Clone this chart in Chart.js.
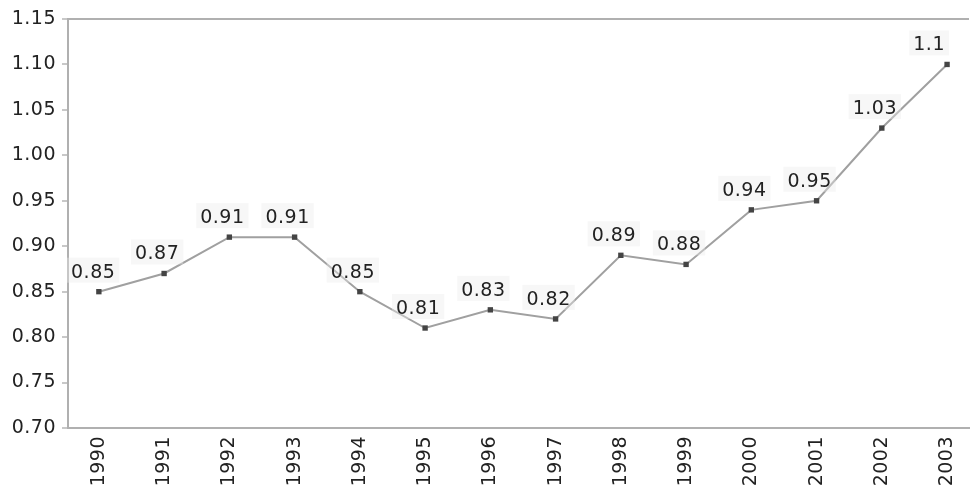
<!DOCTYPE html>
<html>
<head>
<meta charset="utf-8">
<script src="https://cdn.jsdelivr.net/npm/chart.js@4/dist/chart.umd.min.js"></script>
<style>
  html, body { margin: 0; padding: 0; background: #fff; }
  #wrap { width: 973px; height: 491px; }
</style>
</head>
<body>
<div id="wrap"><canvas id="chart"></canvas></div>
<script>
const years = [1990, 1991, 1992, 1993, 1994, 1995, 1996, 1997, 1998, 1999, 2000, 2001, 2002, 2003];
const values = [0.85, 0.87, 0.91, 0.91, 0.85, 0.81, 0.83, 0.82, 0.89, 0.88, 0.94, 0.95, 1.03, 1.1];
const yTicks = [0.70, 0.75, 0.80, 0.85, 0.90, 0.95, 1.00, 1.05, 1.10, 1.15];

const FONT = 'DejaVu Sans';
const TEXT = '#222';
const AXIS = '#b0b0b0';

// value labels above each point, kept inside the plot area
const valueLabels = {
    id: 'valueLabels',
    afterDatasetsDraw(chart) {
        const ctx = chart.ctx;
        const area = chart.chartArea;
        const meta = chart.getDatasetMeta(0);
        ctx.save();
        ctx.letterSpacing = '0.5px';
        ctx.font = `19px "${FONT}"`;
        ctx.textBaseline = 'alphabetic';
        meta.data.forEach((pt, i) => {
            const txt = String(values[i]);
            const w = ctx.measureText(txt).width;
            let x = pt.x - w / 2 - 7;
            if (x < area.left + 3) x = area.left + 3;
            if (x + w > area.right - 24) x = area.right - 24 - w;
            const y = pt.y - 14;
            ctx.fillStyle = 'rgba(235,235,235,0.4)';
            ctx.fillRect(x - 4, y - 20, w + 8, 25);
            ctx.fillStyle = TEXT;
            ctx.textAlign = 'left';
            ctx.fillText(txt, x, y);
        });
        ctx.restore();
    }
};

const spacing = {
    id: 'spacing',
    beforeDraw(chart) { chart.ctx.letterSpacing = '0.5px'; }
};

new Chart(document.getElementById('chart'), {
    type: 'line',
    data: {
        datasets: [{
            data: years.map((yr, i) => ({ x: yr, y: values[i] })),
            borderColor: '#a0a0a0',
            borderWidth: 2,
            pointStyle: 'rect',
            pointRadius: 3.8,
            pointBackgroundColor: '#444',
            pointBorderColor: '#444',
            pointBorderWidth: 0,
            tension: 0
        }]
    },
    options: {
        responsive: true,
        maintainAspectRatio: false,
        animation: false,
        layout: { padding: { top: 19, right: 0, left: 0, bottom: 0 } },
        plugins: { legend: { display: false }, tooltip: { enabled: false } },
        scales: {
            x: {
                type: 'linear',
                min: 1989.527,
                max: 2003.336,
                afterBuildTicks(scale) { scale.ticks = years.map(v => ({ value: v })); },
                afterFit(scale) { scale.height = 63; },
                grid: { display: false, drawTicks: true, tickLength: 5, tickColor: '#c8c8c8' },
                border: { color: AXIS, width: 2 },
                ticks: {
                    minRotation: 90, maxRotation: 90, autoSkip: false, padding: 3,
                    color: TEXT, font: { family: FONT, size: 19 },
                    callback: v => String(v)
                }
            },
            y: {
                min: 0.70,
                max: 1.15,
                afterBuildTicks(scale) { scale.ticks = yTicks.map(v => ({ value: v })); },
                afterFit(scale) { scale.width = 68; },
                grid: {
                    drawOnChartArea: true, tickLength: 6, tickColor: '#c8c8c8',
                    color: ctx => (ctx.tick && ctx.tick.value === 1.15) ? AXIS : 'rgba(0,0,0,0)',
                    lineWidth: 2
                },
                border: { color: AXIS, width: 2 },
                ticks: {
                    padding: 6, color: TEXT, font: { family: FONT, size: 19 },
                    callback: v => v.toFixed(2)
                }
            }
        }
    },
    plugins: [spacing, valueLabels]
});
</script>
</body>
</html>
